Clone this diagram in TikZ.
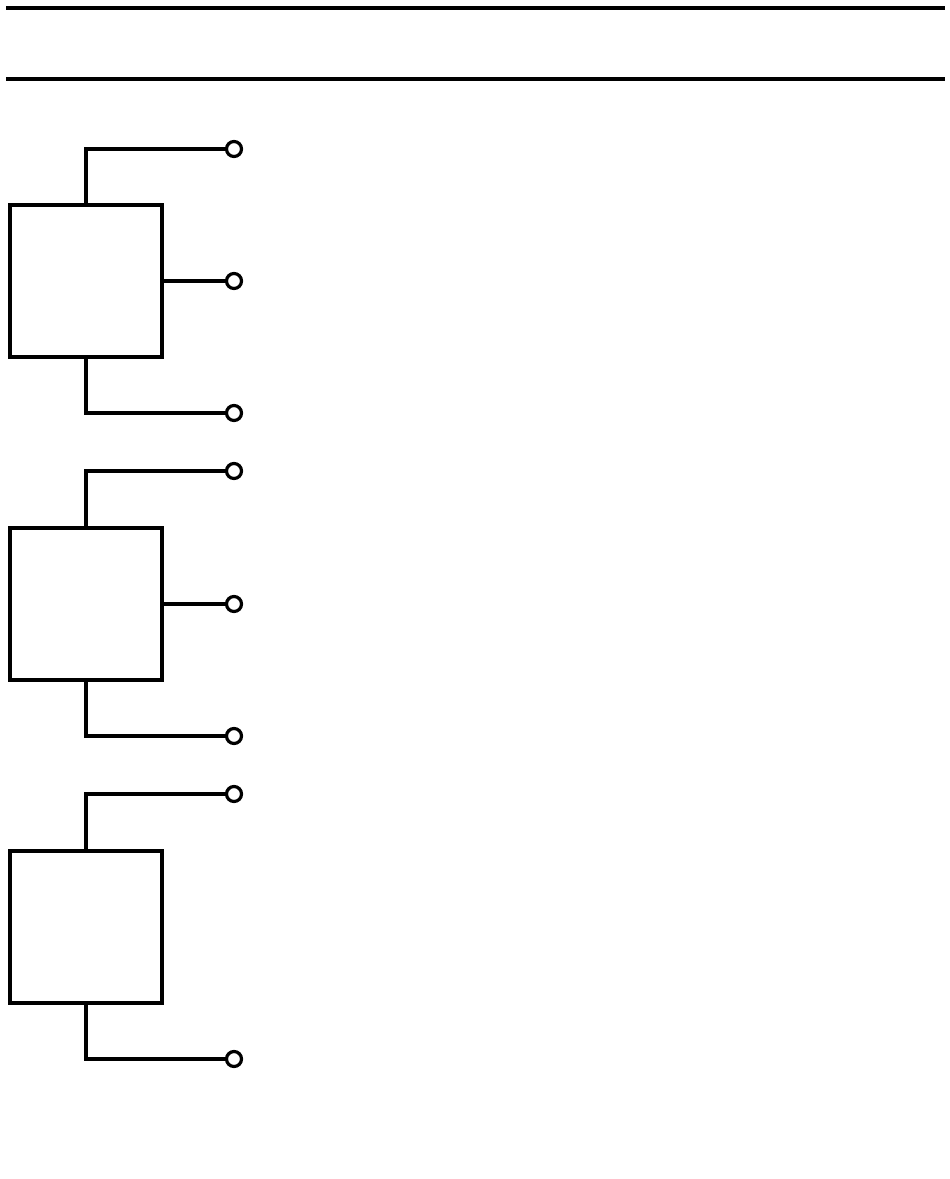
\documentclass[tikz,border=0pt]{standalone}
\begin{document}
\begin{tikzpicture}[x=1pt,y=-1pt,
  wire/.style={line width=3.5pt},
  blk/.style={draw,line width=3.5pt,minimum width=152pt,minimum height=152pt,inner sep=0pt,outer sep=0pt},
  term/.style={circle,draw,fill=white,line width=3.2pt,minimum size=15pt,inner sep=0pt}]
\useasboundingbox (0,0) rectangle (950,1179);
\node[coordinate] (l1a) at (6,8) {};
\node[coordinate] (l1b) at (945,8) {};
\node[coordinate] (l2a) at (6,79) {};
\node[coordinate] (l2b) at (945,79) {};
\draw[wire,line width=3.2pt] (l1a) -- (l1b);
\draw[wire,line width=3.2pt] (l2a) -- (l2b);
% block 1
\node[blk] (b1) at (86,281) {};
\node[term] (t1a) at (234,149) {};
\node[term] (t1b) at (234,281) {};
\node[term] (t1c) at (234,413) {};
\draw[wire] (b1.north) |- (t1a);
\draw[wire] (b1.east) -- (t1b);
\draw[wire] (b1.south) |- (t1c);
% block 2
\node[blk] (b2) at (86,604) {};
\node[term] (t2a) at (234,471) {};
\node[term] (t2b) at (234,604) {};
\node[term] (t2c) at (234,736) {};
\draw[wire] (b2.north) |- (t2a);
\draw[wire] (b2.east) -- (t2b);
\draw[wire] (b2.south) |- (t2c);
% block 3
\node[blk] (b3) at (86,927) {};
\node[term] (t3a) at (234,794) {};
\node[term] (t3c) at (234,1059) {};
\draw[wire] (b3.north) |- (t3a);
\draw[wire] (b3.south) |- (t3c);
\end{tikzpicture}
\end{document}
